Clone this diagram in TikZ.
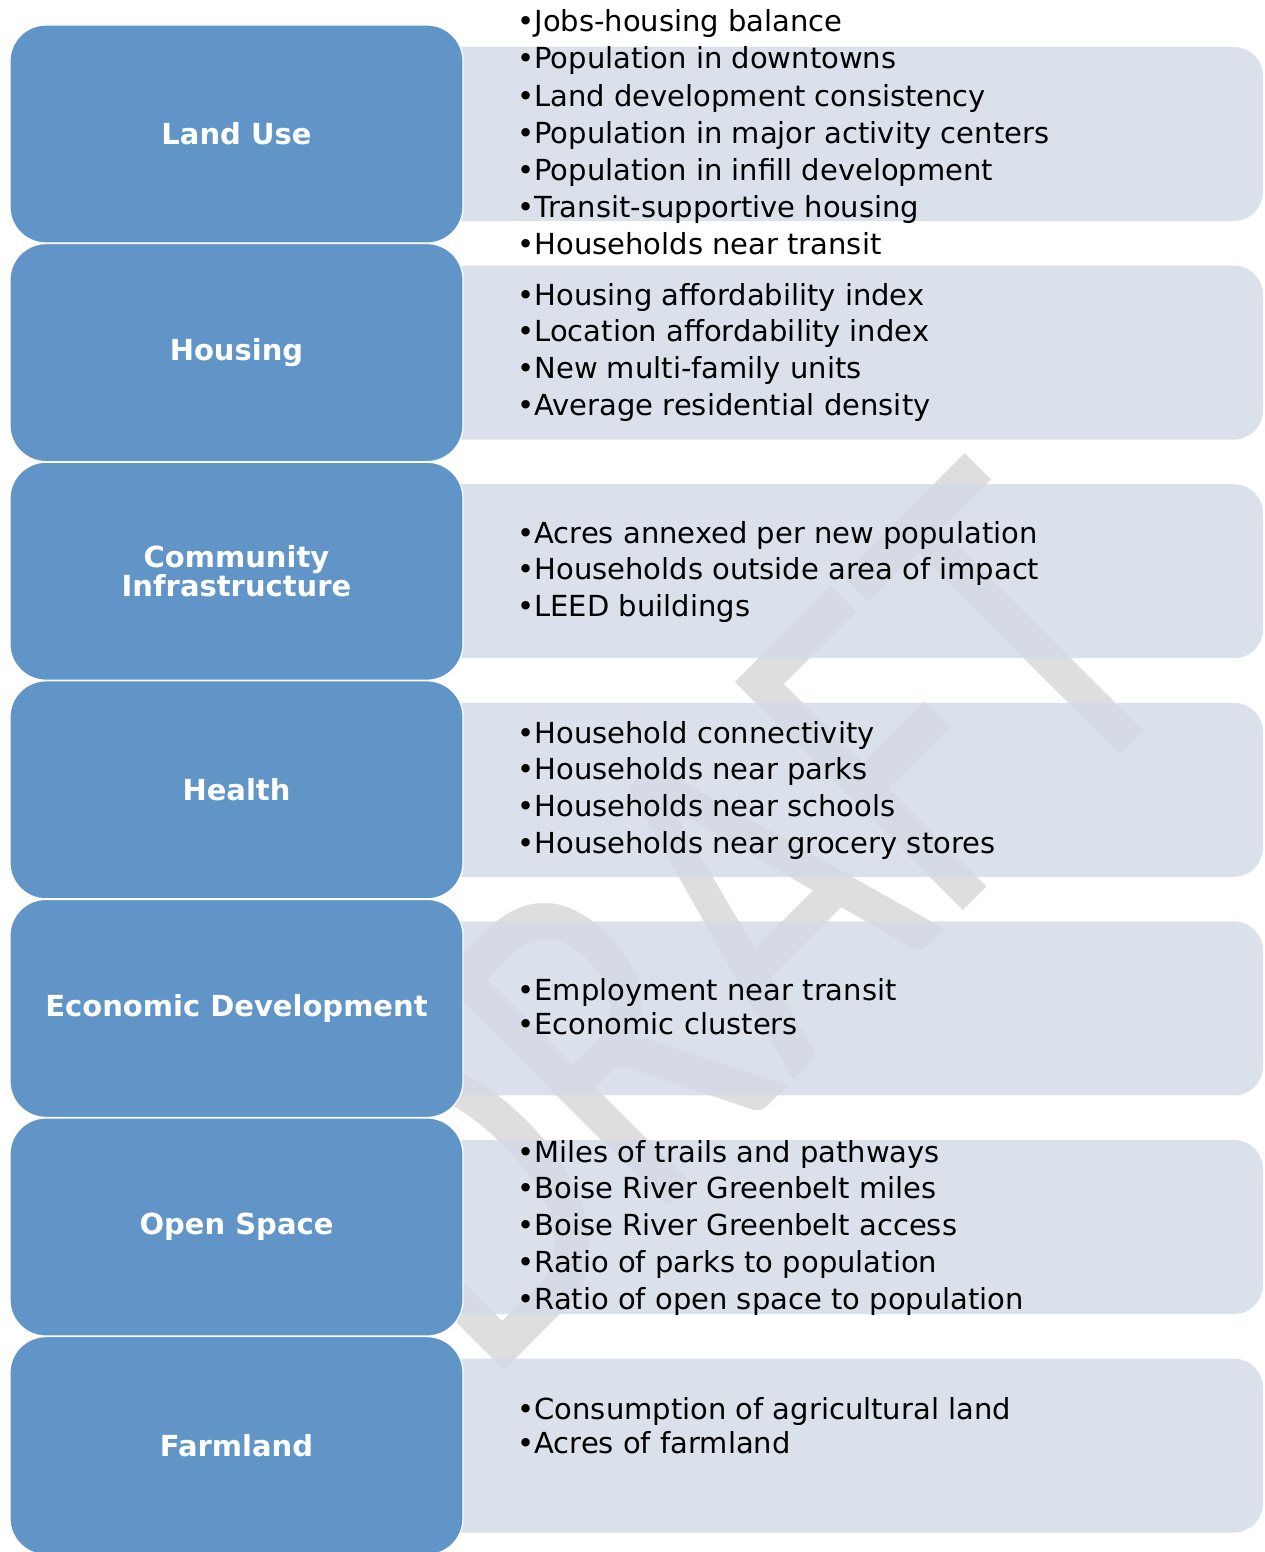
\documentclass[tikz,border=0pt]{standalone}
\usepackage{fontspec}
\setmainfont{DejaVu Sans}
\newfontfamily\wmfont{Carlito}
\definecolor{blockblue}{RGB}{97,149,199}
\definecolor{panelfill}{RGB}{211,218,231}
\definecolor{wmgray}{RGB}{222,222,222}
\begin{document}
\begin{tikzpicture}[x=0.5pt,y=-0.5pt,
  catbox/.style={fill=blockblue, draw=white, line width=0.6pt, rounded corners=18pt,
    minimum width=226.5pt, minimum height=109pt, inner sep=0pt, text=white,
    font=\bfseries\fontsize{14.5}{14.5}\selectfont, align=center},
  panel/.style={fill=panelfill, fill opacity=0.8, rounded corners=14.5pt,
    minimum width=481.5pt, minimum height=87pt, inner sep=0pt},
  item/.style={anchor=base west, inner sep=0pt, font=\fontsize{14.5}{17}\selectfont},
  wm/.style={text=wmgray, inner sep=0pt, font=\wmfont\fontsize{251.5}{251.5}\selectfont}]

\useasboundingbox (0,0) rectangle (1264,1552);
\fill[white] (0,0) rectangle (1264,1552);

% background watermark
\node[wm, rotate=45] (wmark) at (727,919) {\scalebox{0.744}[1]{DRAFT}};

% translucent detail panels
\foreach \i in {0,...,6}
  \node[panel] (p\i) at (781.5, 134+218.6*\i) {};

% category blocks
\node[catbox] (c0) at (236.5, 134.0) {Land Use};
\node[catbox] (c1) at (236.5, 352.6) {Housing};
\node[catbox] (c2) at (236.5, 571.2) {Community\\Infrastructure};
\node[catbox] (c3) at (236.5, 789.8) {Health};
\node[catbox] (c4) at (236.5, 1008.4) {Economic Development};
\node[catbox] (c5) at (236.5, 1227.0) {Open Space};
\node[catbox] (c6) at (236.5, 1445.6) {Farmland};

% indicator lists
\foreach \t [count=\k from 0] in {Jobs-housing balance, Population in downtowns,
    Land development consistency, Population in major activity centers,
    Population in infill development, Transit-supportive housing, Households near transit}
  \node[item] (lu\k) at (517, 32+37*\k) {•\t};

\foreach \t [count=\k from 0] in {Housing affordability index, Location affordability index,
    New multi-family units, Average residential density}
  \node[item] (ho\k) at (517, 305+36.7*\k) {•\t};

\foreach \t [count=\k from 0] in {Acres annexed per new population,
    Households outside area of impact, LEED buildings}
  \node[item] (ci\k) at (517, 543+36.5*\k) {•\t};

\foreach \t [count=\k from 0] in {Household connectivity, Households near parks,
    Households near schools, Households near grocery stores}
  \node[item] (he\k) at (517, 743+36.7*\k) {•\t};

\foreach \t [count=\k from 0] in {Employment near transit, Economic clusters}
  \node[item] (ed\k) at (517, 1000+34*\k) {•\t};

\foreach \t [count=\k from 0] in {Miles of trails and pathways, Boise River Greenbelt miles,
    Boise River Greenbelt access, Ratio of parks to population,
    Ratio of open space to population}
  \node[item] (os\k) at (517, 1162+36.8*\k) {•\t};

\foreach \t [count=\k from 0] in {Consumption of agricultural land, Acres of farmland}
  \node[item] (fa\k) at (517, 1419+34*\k) {•\t};
\end{tikzpicture}
\end{document}
